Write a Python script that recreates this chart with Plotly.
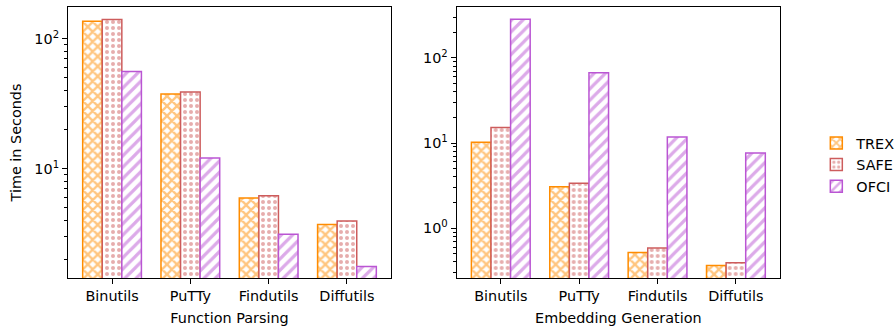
import plotly.graph_objects as go

categories = ["Binutils", "PuTTy", "Findutils", "Diffutils"]
series_names = ["TREX", "SAFE", "OFCI"]

parsing_trex = [136, 37.5, 5.96, 3.73]
parsing_safe = [140, 38.8, 6.21, 3.97]
parsing_ofci = [55.9, 12.1, 3.13, 1.77]

embed_trex = [10.2, 3.07, 0.518, 0.365]
embed_safe = [15.2, 3.37, 0.584, 0.392]
embed_ofci = [284, 66.7, 11.8, 7.64]

left_title = "Function Parsing"
right_title = "Embedding Generation"
y_title = "Time in Seconds"

colors = ["#FF8C00", "#CD5C5C", "#BA55D3"]
patterns = [dict(shape="x", size=7, solidity=0.55),
            dict(shape=".", size=6, solidity=0.35),
            dict(shape="/", size=8, solidity=0.4)]

FONT = "DejaVu Sans"
FS = 14.4

fig = go.Figure()

left_data = [parsing_trex, parsing_safe, parsing_ofci]
right_data = [embed_trex, embed_safe, embed_ofci]

for i, name in enumerate(series_names):
    for j, (data, xa, ya) in enumerate([(left_data, "x", "y"), (right_data, "x2", "y2")]):
        fig.add_trace(go.Bar(
            x=categories, y=data[i], name=name,
            xaxis=xa, yaxis=ya,
            showlegend=(j == 0),
            marker=dict(
                color="white",
                line=dict(color=colors[i], width=1.5),
                pattern=dict(fgcolor=colors[i], bgcolor="white",
                             fillmode="overlay", **patterns[i]),
            ),
        ))

def minor_vals(lo, hi):
    vals = []
    for e in range(lo, hi):
        for m in range(2, 10):
            vals.append(m * 10 ** e)
    return vals

axis_common = dict(
    showline=True, linecolor="black", linewidth=1.1, mirror=True,
    ticks="outside", ticklen=5, tickwidth=1, tickcolor="black",
    showgrid=False, zeroline=False, automargin=False,
    tickfont=dict(family=FONT, size=FS, color="black"),
)

W, H = 896, 326
ML, MR, MT, MB = 68, W - 780, 6.5, H - 278.3
PW = W - ML - MR
PH = H - MT - MB

def xd(a, b):
    return [(a - ML) / PW, (b - ML) / PW]

fig.update_layout(
    width=W, height=H,
    margin=dict(l=ML, r=MR, t=MT, b=MB, autoexpand=False),
    paper_bgcolor="white", plot_bgcolor="white",
    barmode="group", bargap=0.25, bargroupgap=0,
    font=dict(family=FONT, size=FS, color="black"),
    xaxis=dict(domain=xd(68, 391), anchor="y",
               range=[-0.5625, 3.5625],
               title=dict(text=left_title, standoff=10,
                          font=dict(family=FONT, size=FS)),
               **axis_common),
    xaxis2=dict(domain=xd(456.7, 780), anchor="y2",
                range=[-0.5625, 3.5625],
                title=dict(text=right_title, standoff=10,
                           font=dict(family=FONT, size=FS)),
                **axis_common),
    yaxis=dict(domain=[0, 1], anchor="x",
               type="log", range=[0.16, 2.243],
               tickvals=[1, 10, 100],
               ticktext=["10<sup>0</sup>", "10<sup>1</sup>", "10<sup>2</sup>"],
               minor=dict(ticks="outside", ticklen=3, tickwidth=0.8,
                          tickcolor="black", tickvals=minor_vals(0, 3)),
               title=dict(text=y_title, standoff=9,
                          font=dict(family=FONT, size=FS)),
               **axis_common),
    yaxis2=dict(domain=[0, 1], anchor="x2",
                type="log", range=[-0.586, 2.598],
                tickvals=[1, 10, 100],
                ticktext=["10<sup>0</sup>", "10<sup>1</sup>", "10<sup>2</sup>"],
                minor=dict(ticks="outside", ticklen=3, tickwidth=0.8,
                           tickcolor="black", tickvals=minor_vals(-1, 3)),
                **axis_common),
    legend=dict(x=1.051, y=(278.3 - 165) / PH, xanchor="left", yanchor="middle",
                font=dict(family=FONT, size=FS, color="black"),
                bgcolor="rgba(0,0,0,0)", itemwidth=30, tracegroupgap=0),
)

fig.write_html("out.html", post_script="document.body.style.margin='0';",
               config={"displayModeBar": False})
